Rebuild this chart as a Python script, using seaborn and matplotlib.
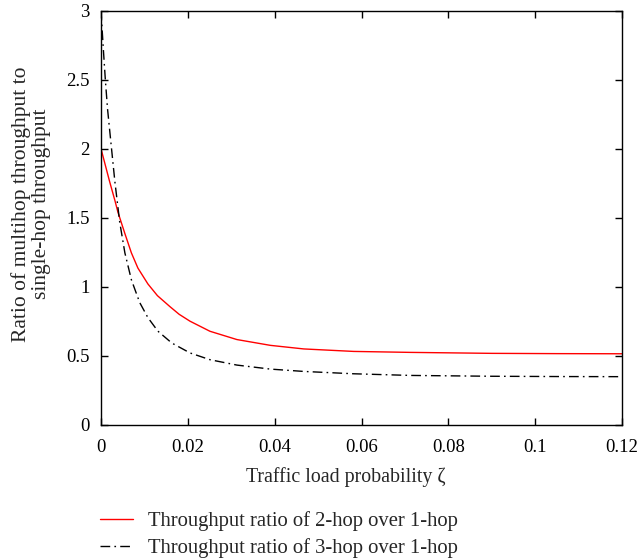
import matplotlib
matplotlib.use("Agg")
import matplotlib.pyplot as plt
import seaborn as sns
import pandas as pd

# Data
zeta_2hop = [0, 0.001, 0.002, 0.0032, 0.0039, 0.0055, 0.007, 0.0085, 0.0108, 0.0130,
             0.0159, 0.0180, 0.0205, 0.0251, 0.0313, 0.039, 0.0467, 0.0582, 0.0713,
             0.09, 0.105, 0.12]
ratio_2hop = [2.0, 1.88, 1.76, 1.625, 1.54, 1.385, 1.245, 1.135, 1.02, 0.935,
              0.855, 0.80, 0.75, 0.677, 0.617, 0.575, 0.549, 0.531, 0.524,
              0.517, 0.515, 0.514]

zeta_3hop = [0, 0.0005, 0.001, 0.0015, 0.0022, 0.0032, 0.0043, 0.0055, 0.007, 0.0089,
             0.0108, 0.0131, 0.0163, 0.0205, 0.0251, 0.0313, 0.039, 0.0467, 0.0582,
             0.0713, 0.09, 0.105, 0.12]
ratio_3hop = [3.0, 2.74, 2.5, 2.29, 2.07, 1.76, 1.47, 1.245, 1.05, 0.886,
              0.776, 0.678, 0.592, 0.52, 0.471, 0.432, 0.403, 0.386, 0.369,
              0.357, 0.351, 0.349, 0.348]

labels = ["Throughput ratio of 2-hop over 1-hop",
          "Throughput ratio of 3-hop over 1-hop"]
x_ticks = [0, 0.02, 0.04, 0.06, 0.08, 0.1, 0.12]
x_ticklabels = ["0", "0.02", "0.04", "0.06", "0.08", "0.1", "0.12"]
y_ticks = [0, 0.5, 1, 1.5, 2, 2.5, 3]
y_ticklabels = ["0", "0.5", "1", "1.5", "2", "2.5", "3"]

df2 = pd.DataFrame({"zeta": zeta_2hop, "ratio": ratio_2hop})
df3 = pd.DataFrame({"zeta": zeta_3hop, "ratio": ratio_3hop})

sns.set_style("ticks")
plt.rcParams["font.family"] = ["Liberation Serif", "DejaVu Serif"]
plt.rcParams["mathtext.fontset"] = "stix"

fig = plt.figure(figsize=(6.41, 5.60), dpi=100)
ax = fig.add_axes([101 / 641, 1 - 424.7 / 560, (622 - 101) / 641, (424.7 - 10.7) / 560])

sns.lineplot(data=df2, x="zeta", y="ratio", ax=ax, color="#ff0000", lw=1.0,
             label=labels[0])
sns.lineplot(data=df3, x="zeta", y="ratio", ax=ax, color="black", lw=1.0,
             label=labels[1])
ax.lines[1].set_linestyle((0, (7, 3, 1.2, 3)))

ax.set_xlim(0, 0.12)
ax.set_ylim(0, 3)
ax.set_xticks(x_ticks)
ax.set_xticklabels(x_ticklabels)
ax.set_yticks(y_ticks)
ax.set_yticklabels(y_ticklabels)
ax.tick_params(direction="in", top=True, right=True, length=5, width=1,
               labelsize=13.5, colors="black")
ax.tick_params(axis="x", pad=10)
ax.tick_params(axis="y", pad=8)
for s in ax.spines.values():
    s.set_linewidth(1.0)
    s.set_color("black")

ax.set_xlabel("Traffic load probability ζ", fontsize=14.3)
ax.set_ylabel("Ratio of multihop throughput to\nsingle-hop throughput", fontsize=15.5,
              linespacing=1.1)
ax.xaxis.set_label_coords((346 - 101) / (622 - 101), -(467 - 424.7) / 414)
ax.yaxis.set_label_coords(-(101 - 51) / 521, (424.7 - 204) / 414)

h, l = ax.get_legend_handles_labels()
ax.get_legend().remove()
fig.legend(h, l, loc="upper left", bbox_to_anchor=(94 / 641, 1 - 505 / 560),
           frameon=False, fontsize=14.9, handlelength=1.6, handletextpad=0.72,
           labelspacing=0.35, borderaxespad=0, borderpad=0.3)

fig.savefig("out.png", dpi=100)
